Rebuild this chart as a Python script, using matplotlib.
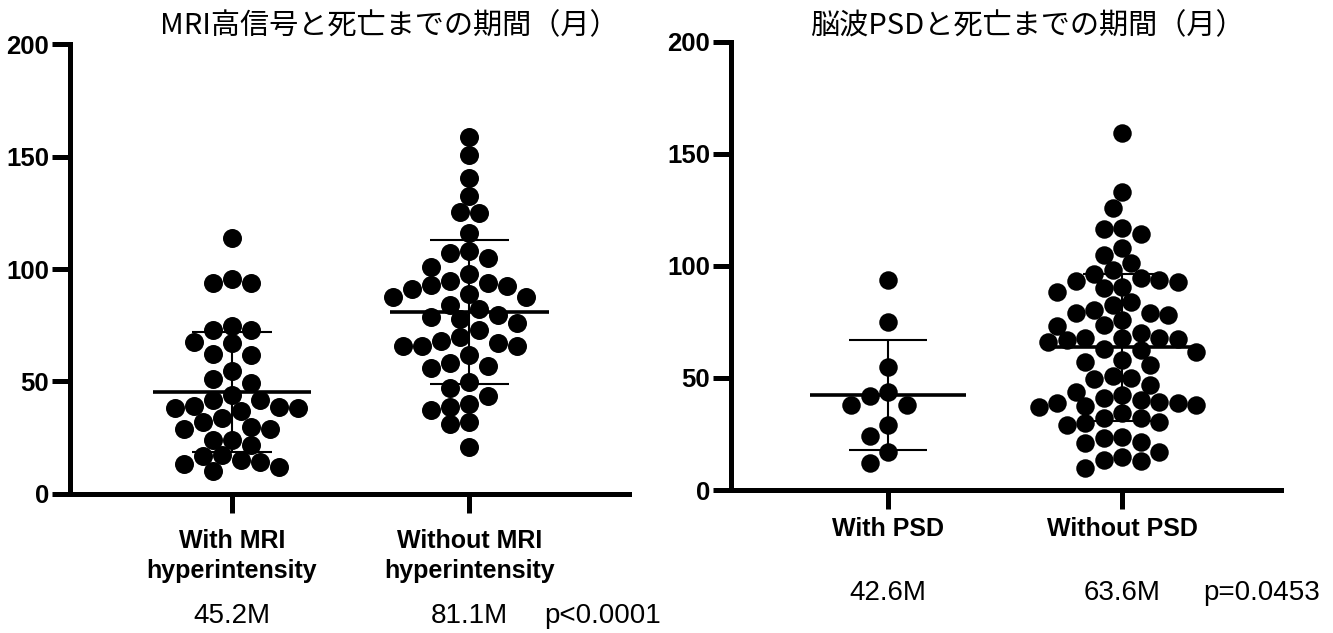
import numpy as np
import matplotlib.pyplot as plt

plt.rcParams['font.family'] = ['Liberation Sans', 'Noto Sans CJK JP', 'DejaVu Sans']

## values (months until death)
mri_with = [113.7, 95.7, 93.7, 93.7, 74.8, 72.9, 72.9, 67.7, 66.9, 62.1, 61.8, 54.7,
            50.9, 49.2, 43.9, 41.7, 41.7, 39.0, 38.7, 38.0, 38.0, 36.9, 33.9, 31.8,
            29.9, 29.0, 28.7, 23.9, 23.9, 21.7, 17.2, 16.8, 15.0, 14.0, 13.0, 12.0, 10.1]
mri_without = [158.7, 150.7, 140.6, 132.7, 125.6, 124.8, 115.9, 108.1, 107.0, 104.8,
               100.8, 97.7, 94.8, 93.9, 93.0, 92.6, 91.3, 88.8, 87.7, 87.7, 84.0, 82.1,
               79.5, 78.8, 77.6, 76.1, 72.9, 69.9, 68.0, 67.0, 65.9, 65.9, 65.9, 61.8,
               58.1, 57.0, 55.8, 49.9, 46.9, 43.6, 39.9, 38.7, 37.3, 32.1, 30.9, 20.9]
psd_with = [93.7, 75.1, 55.1, 43.9, 41.9, 37.9, 37.9, 29.0, 24.1, 16.8, 11.9]
psd_without = [159.1, 133.1, 125.9, 117.0, 116.3, 114.1, 108.1, 104.8, 101.4, 98.2,
               96.2, 94.4, 93.7, 93.2, 92.9, 90.7, 90.0, 88.5, 84.0, 82.5, 80.3, 79.1,
               78.8, 78.1, 75.8, 73.6, 73.2, 70.2, 67.7, 67.7, 67.7, 67.2, 66.9, 66.2,
               62.8, 62.5, 61.7, 58.0, 57.2, 55.8, 50.9, 49.8, 49.4, 46.8, 43.9, 42.4,
               40.9, 40.1, 39.4, 38.7, 38.7, 37.9, 37.5, 37.2, 34.2, 32.3, 32.0, 30.5,
               29.7, 29.0, 23.8, 23.1, 21.5, 20.8, 17.1, 14.9, 13.4, 12.9, 10.0]

mri_labels = ['With MRI\nhyperintensity', 'Without MRI\nhyperintensity']
psd_labels = ['With PSD', 'Without PSD']
mri_title = 'MRI高信号と死亡までの期間（月）'
psd_title = '脳波PSDと死亡までの期間（月）'
mri_notes = ['45.2M', '81.1M']
psd_notes = ['42.6M', '63.6M']
mri_p = 'p<0.0001'
psd_p = 'p=0.0453'
y_ticks = [0, 50, 100, 150, 200]


def swarm_x(ax, center, values, diam_px, overlap=0.9):
    # simple beeswarm on a half-diameter grid, done in pixel space
    p0 = ax.transData.transform((0, 0))
    p1 = ax.transData.transform((1, 1))
    sx, sy = p1[0] - p0[0], p1[1] - p0[1]
    vals = np.asarray(values, float)
    offs = np.zeros(len(vals))
    placed = []
    dmin = diam_px * overlap
    step = diam_px / 2
    cands = [0] + [s * j for j in range(1, 30) for s in (-1, 1)]
    for i in np.argsort(-vals):
        yp = vals[i] * sy
        for c in cands:
            xp = c * step
            if all((xp - px) ** 2 + (yp - py) ** 2 >= dmin ** 2 for px, py in placed):
                break
        placed.append((xp, yp))
        offs[i] = xp / sx
    return center + offs


def panel(ax, groups, labels, xlim, label_pad, diam):
    ax.set_xlim(*xlim)
    ax.set_ylim(0, 200)
    for s in ['top', 'right']:
        ax.spines[s].set_visible(False)
    for s in ['left', 'bottom']:
        ax.spines[s].set_linewidth(3.6)
    ax.set_yticks(y_ticks, labels=[str(t) for t in y_ticks], fontweight='bold', fontsize=18.5)
    ax.set_xticks(range(len(groups)), labels=labels, fontweight='bold', fontsize=18,
                  linespacing=1.3)
    ax.tick_params(axis='y', length=13, width=3.6, pad=2)
    ax.tick_params(axis='x', length=13.5, width=3.6, pad=label_pad)
    for i, g in enumerate(groups):
        g = np.asarray(g)
        xs = swarm_x(ax, i, g, diam)
        ax.scatter(xs, g, s=(diam * 0.72) ** 2, color='black', linewidths=0, zorder=2)
        m, sd = g.mean(), g.std(ddof=1)
        ax.hlines(m, i - 0.333, i + 0.333, color='black', lw=2.6, zorder=3)
        ax.hlines([m - sd, m + sd], i - 0.168, i + 0.168, color='black', lw=1.5, zorder=3)
        ax.vlines(i, m - sd, m + sd, color='black', lw=1.5, zorder=3)


fig = plt.figure(figsize=(13.33, 6.33), dpi=100)
ax1 = fig.add_axes([0.0525, 0.2201, 0.4194, 0.7096])
ax2 = fig.add_axes([0.5484, 0.2259, 0.4126, 0.7082])

panel(ax1, [mri_with, mri_without], mri_labels, (-0.682, 1.672), 12, 19)
panel(ax2, [psd_with, psd_without], psd_labels, (-0.671, 1.679), 6, 18.5)

# group means and p values under the labels
for i, t in enumerate(mri_notes):
    ax1.annotate(t, (i, 0), xycoords=('data', 'axes fraction'), xytext=(0, -93),
                 textcoords='offset points', ha='center', va='baseline', fontsize=20)
ax1.annotate(mri_p, (1.562, 0), xycoords=('data', 'axes fraction'), xytext=(0, -93),
             textcoords='offset points', ha='center', va='baseline', fontsize=20)
for i, t in enumerate(psd_notes):
    ax2.annotate(t, (i, 0), xycoords=('data', 'axes fraction'), xytext=(0, -79),
                 textcoords='offset points', ha='center', va='baseline', fontsize=20)
ax2.annotate(psd_p, (1.598, 0), xycoords=('data', 'axes fraction'), xytext=(0, -79),
             textcoords='offset points', ha='center', va='baseline', fontsize=20)

fig.text(389 / 1333, 1 - 26 / 633, mri_title, ha='center', va='center', fontsize=21,
         family=['Noto Sans CJK JP', 'DejaVu Sans'])
fig.text(1027 / 1333, 1 - 26 / 633, psd_title, ha='center', va='center', fontsize=21,
         family=['Noto Sans CJK JP', 'DejaVu Sans'])

fig.savefig('out.png', dpi=100)
